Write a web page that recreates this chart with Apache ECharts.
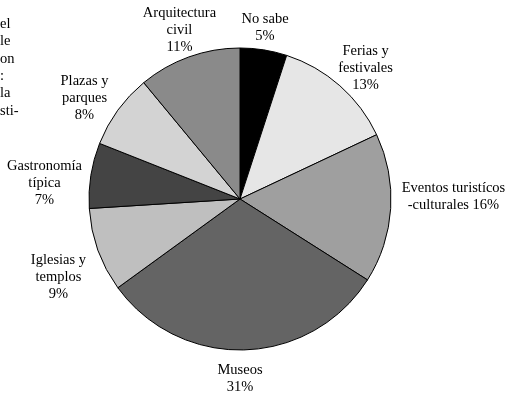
<!DOCTYPE html>
<html>
<head>
<meta charset="utf-8">
<script src="https://cdn.jsdelivr.net/npm/echarts@6/dist/echarts.min.js"></script>
<style>
  html, body { margin: 0; padding: 0; background: #fff; }
  #chart { width: 507px; height: 393px; }
</style>
</head>
<body>
<div id="chart"></div>
<script>
// Categories in clockwise order, starting at 12 o'clock
const categories = [
  'No sabe',
  'Ferias y\nfestivales',
  'Eventos turistícos\n-culturales',
  'Museos',
  'Iglesias y\ntemplos',
  'Gastronomía\ntípica',
  'Plazas y\nparques',
  'Arquitectura\ncivil'
];
// Share of responses (%)
const shares = [5, 13, 16, 31, 9, 7, 8, 11];
// Separator between the name and the percentage in each label
const labelJoin = ['\n', '\n', ' ', '\n', '\n', '\n', '\n', '\n'];
// Trailing words of the side note, clipped at the left edge
const noteFragments = ['el', 'le', 'on', ':', 'la', 'sti-'];

const sliceColors = ['#000000', '#e6e6e6', '#9f9f9f', '#646464', '#bfbfbf', '#444444', '#d3d3d3', '#8a8a8a'];
// Label placement: distance from the centre and small angular nudge (degrees)
const labelDist = [173.3, 181.4, 213.5, 179.5, 197.6, 196.2, 185.4, 179.5];
const labelTurn = [-0.7, 2.4, -4.3, 1.8, -3.45, -4.3, -3.0, 0.1];

const CX = 240, CY = 199, R = 151;
const total = shares.reduce((a, b) => a + b, 0);
const midAngles = [];
let acc = 0;
shares.forEach(v => { midAngles.push((acc + v / 2) / total * 360); acc += v; });

const chart = echarts.init(document.getElementById('chart'), null, { renderer: 'canvas' });

const serif = '"Liberation Serif", "Times New Roman", serif';
const FS = 14.5;

chart.setOption({
  animation: false,
  backgroundColor: '#ffffff',
  graphic: noteFragments.map((t, i) => ({
    type: 'text',
    x: 0,
    y: 24 + i * 17.4,
    style: { text: t, font: FS + 'px ' + serif, fill: '#000', verticalAlign: 'middle' }
  })),
  series: [{
    type: 'pie',
    center: [CX, CY],
    radius: [0, R],
    startAngle: 90,
    clockwise: true,
    avoidLabelOverlap: false,
    data: categories.map((c, i) => ({
      name: c,
      value: shares[i],
      itemStyle: { color: sliceColors[i] }
    })),
    itemStyle: { borderColor: '#000', borderWidth: 1 },
    label: {
      show: true,
      position: 'outside',
      formatter: p => p.name + labelJoin[p.dataIndex] + p.value + '%',
      fontFamily: serif,
      fontSize: FS,
      lineHeight: 17,
      color: '#000',
      align: 'center'
    },
    labelLine: { show: false },
    labelLayout: params => {
      const i = params.dataIndex;
      const a = (midAngles[i] + labelTurn[i]) * Math.PI / 180;
      return {
        x: CX + labelDist[i] * Math.sin(a),
        y: CY - labelDist[i] * Math.cos(a),
        align: 'center',
        verticalAlign: 'middle'
      };
    },
    emphasis: { disabled: true }
  }]
});
</script>
</body>
</html>
